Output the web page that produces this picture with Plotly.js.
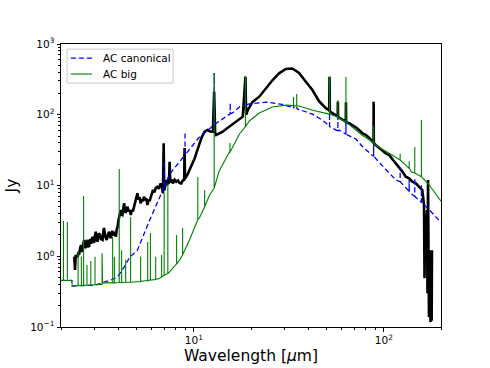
<!DOCTYPE html>
<html>
<head>
<meta charset="utf-8">
<script src="https://cdn.plot.ly/plotly-3.0.1.min.js"></script>
<style>
  html, body { margin: 0; padding: 0; background: #fff; }
  #sed { width: 490px; height: 368px; }
</style>
</head>
<body>
<div id="sed"></div>
<script>
// observed spectrum (black)
const obsWl = [2.35, 2.36, 2.37, 2.39, 2.40, 2.42, 2.45, 2.47, 2.49, 2.52, 2.55, 2.57, 2.60, 2.62, 2.65, 2.68,
    2.71, 2.73, 2.76, 2.78, 2.81, 2.85, 2.88, 2.93, 2.96, 2.99, 3.02, 3.05, 3.08, 3.12, 3.16, 3.21, 3.25,
    3.31, 3.34, 3.37, 3.42, 3.48, 3.53, 3.58, 3.62, 3.66, 3.72, 3.76, 3.81, 3.85, 3.89, 3.93, 3.97, 4.02,
    4.08, 4.13, 4.17, 4.21, 4.26, 4.30, 4.34, 4.38, 4.43, 4.48, 4.53, 4.60, 4.66, 4.72, 4.78, 4.85, 4.92,
    4.98, 5.05, 5.12, 5.18, 5.25, 5.32, 5.40, 5.47, 5.55, 5.62, 5.70, 5.78, 5.85, 5.93, 6.02, 6.10, 6.20,
    6.30, 6.43, 6.55, 6.69, 6.80, 6.88, 6.94, 6.99, 7.08, 7.17, 7.28, 7.40, 7.46, 7.52, 7.64, 7.76, 7.92,
    8.08, 8.25, 8.40, 8.59, 8.75, 8.90, 8.94, 8.99, 9.12, 9.30, 9.49, 9.68, 9.88, 10.1, 10.3, 10.5, 10.7,
    11.0, 11.4, 11.8, 12.2, 12.6, 12.8, 12.95, 13.1, 13.6, 14.2, 14.8, 15.4, 16.0, 16.7, 17.4, 18.1, 18.7,
    18.85, 19.2, 20.3, 22.1, 24.0, 26.0, 28.1, 30.5, 33.0, 35.8, 38.9, 42.1, 45.6, 49.4, 51.6, 51.8, 52.0,
    53.6, 55.5, 57.2, 57.3, 57.45, 58.1, 60.5, 63.1, 63.2, 63.35, 65.8, 68.5, 72.0, 74.5, 77.3, 80.5, 84.0,
    88.3, 88.4, 88.6, 91.0, 94.6, 98.5, 102.5, 106.7, 111.0, 115.7, 120.4, 125.3, 130.5, 135.8, 141.4,
    147.3, 153.3, 159.5, 162.8, 163.8, 164.8, 166.8, 168.8, 169.8, 170.9, 171.9, 172.9, 175.0, 176.1,
    177.1, 178.6, 179.3];
const obsJy = [0.985, 0.75, 0.64, 1.05, 0.95, 1.04, 0.985, 1.15, 1.05, 1.3, 1.44, 1.2, 1.16, 1.5, 1.70, 1.35,
    1.31, 1.6, 1.70, 1.4, 1.36, 1.75, 1.5, 1.89, 1.6, 1.54, 2.0, 2.22, 1.7, 1.61, 2.1, 2.00, 1.75,
    1.70, 2.2, 2.51, 1.9, 1.70, 2.0, 2.22, 1.9, 1.81, 2.3, 1.95, 2.22, 2.0, 1.89, 2.4, 2.62, 3.3,
    3.9, 4.51, 3.9, 3.83, 4.8, 5.6, 4.5, 4.09, 4.6, 5.02, 4.3, 4.5, 3.83, 4.5, 4.3, 5.02, 5.8,
    6.5, 7.76, 6.3, 6.8, 5.6, 6.4, 6.0, 6.95, 6.2, 6.6, 5.30, 6.3, 6.0, 6.95, 7.6, 8.64, 8.0,
    9.2, 9.6, 9.0, 10.7, 9.5, 7.76, 39.5, 8.5, 10.5, 11.9, 10.6, 11.0, 21.7, 11.0, 12.2, 10.7, 12.0,
    11.3, 11.8, 10.9, 10.7, 11.8, 12.0, 33.9, 12.5, 13.3, 14.6, 16.6, 18.5, 21.7, 24, 28.5, 33, 39.5,
    48, 57.6, 60.9, 58, 57.6, 212, 55, 51.7, 54, 57.6, 63, 67.8, 73, 79.7, 86, 93.9, 345,
    100, 115, 150, 180, 239, 310, 385, 443, 451, 389, 293, 224, 156, 125, 115, 345, 112,
    105, 99, 95, 153, 93, 91.4, 86, 80, 150, 78, 76, 71.6, 65, 60, 54.7, 51.7, 47,
    40, 153, 39.9, 37, 33.5, 31, 28.5, 27.0, 23.5, 20.6, 18.4, 15.7, 13.3, 12.6, 11.3,
    10.7, 9.6, 8.64, 5.3, 0.49, 3.83, 1.70, 4.51, 0.30, 12.0, 1.70, 0.138, 1.22, 0.118,
    0.885, 0.123, 1.22];

// AC canonical model: continuum + lines
const canonWl = [2.0, 2.28, 2.29, 3.0, 3.2, 3.66, 3.96, 4.3, 4.6, 5.05, 5.86, 6.61, 7.46, 8.73, 10.7, 13.15,
    15.96, 17.4, 19.6, 24.1, 29.2, 35.0, 41.9, 47.5, 51.5, 58.1, 71.3, 76.7, 86.5, 94.1, 115.6, 140, 172, 200];
const canonJy = [0.455, 0.455, 0.38, 0.39, 0.41, 0.46, 0.51, 0.70, 0.97, 1.22, 3.25, 6.9, 14.5, 24.5, 48.5, 76,
    106, 129, 142, 151, 140, 121, 103, 84, 70, 61, 45.4, 36.2, 27, 21.5, 12, 7.6, 4.65, 3.0];
const canonLineWl = [6.98, 8.99, 12.81, 15.55, 18.71, 33.48, 34.82, 51.8, 57.3, 63.2, 88.4, 121.9, 136, 145.5, 157.7];
const canonLineTop = [22, 57, 389, 147, 247, 135, 128, 106, 93, 84, 41, 18, 12, 12.8, 10.1];
const canonLineBase = [9.5, 27, 72, 103, 137, 126, 121, 68, 59, 53, 26, 11.3, 8.3, 7.0, 5.8];

// AC big model: continuum + lines
const bigWl = [2.0, 2.28, 2.29, 3.30, 3.31, 4.6, 5.5, 5.86, 6.61, 7.46, 8.41, 9.49, 10.7, 12.1, 13.6, 15.4,
    17.4, 19.6, 22.1, 25.9, 30.6, 35.8, 41.9, 51.5, 63.2, 76.7, 94.1, 115.6, 140, 172, 200];
const bigJy = [0.455, 0.455, 0.38, 0.40, 0.42, 0.43, 0.45, 0.46, 0.49, 0.6, 0.88, 1.7, 3.47, 7.3, 16, 29.8,
    53.5, 81.6, 106, 129, 137, 133, 117, 102, 79, 51.8, 35, 24.5, 15.5, 10.5, 6.0];
const bigLineWl = [2.06, 2.16, 2.46, 2.56, 2.63, 2.74, 2.87, 3.02, 3.29, 3.74, 3.82, 4.05, 4.17, 4.38, 4.65,
    5.25, 5.72, 5.91, 6.30, 6.77, 6.98, 7.3, 8.12, 8.73, 10.5, 11.4, 12.8, 15.5, 18.7, 33.5, 34.8, 51.8,
    57.3, 63.2, 88.4, 121.9, 136, 145.5, 157.7];
const bigLineTop = [3.15, 3.05, 1.15, 0.98, 7.1, 0.75, 0.86, 0.98, 1.1, 1.87, 0.98, 17.1, 1.22, 0.89, 3.59,
    0.98, 1.59, 2.13, 0.98, 1.04, 7.8, 10.8, 2.0, 2.5, 13.2, 8.6, 389, 40, 353, 178, 196, 345,
    162, 345, 70, 28, 22, 35, 84];
const bigLineBase = [0.455, 0.455, 0.385, 0.387, 0.387, 0.39, 0.39, 0.395, 0.40, 0.42, 0.42, 0.425, 0.425, 0.43, 0.43,
    0.44, 0.45, 0.46, 0.47, 0.51, 0.54, 0.57, 0.78, 1.05, 3.3, 5.0, 9.2, 29.5, 68, 135, 133, 102,
    92, 79, 40, 23, 17.5, 15, 13.3];

const yTicks = [0.1, 1, 10, 100, 1000];
const yTickText = ['10<sup>−1</sup>', '10<sup>0</sup>', '10<sup>1</sup>', '10<sup>2</sup>', '10<sup>3</sup>'];
const xTicks = [10, 100];
const xTickText = ['10<sup>1</sup>', '10<sup>2</sup>'];

// continuum points plus each line as base -> peak -> base, ordered by wavelength
function withLines(wl, jy, lineWl, lineTop, lineBase) {
    const pts = wl.map((w, i) => [w, jy[i], 0]);
    lineWl.forEach((w, i) => {
        pts.push([w, lineBase[i], 1], [w, lineTop[i], 2], [w, lineBase[i], 3]);
    });
    pts.sort((a, b) => a[0] - b[0] || a[2] - b[2]);
    return { x: pts.map(p => p[0]), y: pts.map(p => p[1]) };
}

const canon = withLines(canonWl, canonJy, canonLineWl, canonLineTop, canonLineBase);
const big = withLines(bigWl, bigJy, bigLineWl, bigLineTop, bigLineBase);

const canonLine = { color: '#0000ff', width: 1.3, dash: '5px,3px' };
const bigLine = { color: '#008000', width: 1.1 };

const traces = [
    {
        x: obsWl, y: obsJy,
        type: 'scatter', mode: 'lines',
        line: { color: 'black', width: 2.6 },
        hoverinfo: 'skip'
    },
    {
        name: 'AC canonical',
        x: canon.x, y: canon.y,
        type: 'scatter', mode: 'lines',
        line: canonLine
    },
    {
        name: 'AC big',
        x: big.x, y: big.y,
        type: 'scatter', mode: 'lines',
        line: bigLine
    }
];

// legend drawn by hand (matplotlib-style compact box)
function legendSample(y, line) {
    return {
        type: 'line', xref: 'paper', yref: 'paper', layer: 'above',
        x0: 0.026, x1: 0.082, y0: y, y1: y,
        line: line
    };
}

function legendLabel(y, text) {
    return {
        xref: 'paper', yref: 'paper', x: 0.104, y: y,
        xanchor: 'left', yanchor: 'middle', showarrow: false,
        text: text, font: { family: 'DejaVu Sans, sans-serif', size: 10.5, color: 'black' }
    };
}

const font = 'DejaVu Sans, sans-serif';
const minorX = [2, 3, 4, 5, 6, 7, 8, 9, 20, 30, 40, 50, 60, 70, 80, 90, 200];
const minorY = [];
yTicks.slice(0, 4).forEach(d => { for (let k = 2; k <= 9; k++) minorY.push(d * k); });

const layout = {
    width: 490,
    height: 368,
    margin: { l: 61, r: 49, t: 44, b: 41 },
    paper_bgcolor: 'white',
    plot_bgcolor: 'white',
    font: { family: font, color: 'black', size: 10.5 },
    showlegend: false,
    xaxis: {
        type: 'log',
        range: [Math.log10(2), Math.log10(200)],
        tickmode: 'array', tickvals: xTicks, ticktext: xTickText,
        ticks: 'outside', ticklen: 3.5, tickcolor: 'black',
        showline: true, linecolor: 'black', linewidth: 1, mirror: true,
        showgrid: false, zeroline: false,
        minor: { tickmode: 'array', tickvals: minorX, ticks: 'outside', ticklen: 2, tickcolor: 'black', showgrid: false },
        tickfont: { family: font, size: 10.5 },
        title: { text: 'Wavelength [<i>μ</i>m]', font: { family: font, size: 15.5 }, standoff: 5 }
    },
    yaxis: {
        type: 'log',
        range: [-1, 3],
        tickmode: 'array', tickvals: yTicks, ticktext: yTickText,
        ticks: 'outside', ticklen: 3.5, tickcolor: 'black',
        showline: true, linecolor: 'black', linewidth: 1, mirror: true,
        showgrid: false, zeroline: false,
        minor: { tickmode: 'array', tickvals: minorY, ticks: 'outside', ticklen: 2, tickcolor: 'black', showgrid: false },
        tickfont: { family: font, size: 10.5 },
        title: { text: 'Jy', font: { family: font, size: 15.5 }, standoff: 8 }
    },
    shapes: [
        {
            type: 'rect', xref: 'paper', yref: 'paper', layer: 'above',
            x0: 0.016, x1: 0.295, y0: 0.862, y1: 0.982,
            fillcolor: 'rgba(255,255,255,0.8)',
            line: { color: '#cccccc', width: 1 }
        },
        legendSample(0.950, canonLine),
        legendSample(0.894, bigLine)
    ],
    annotations: [
        legendLabel(0.950, traces[1].name),
        legendLabel(0.894, traces[2].name)
    ]
};

Plotly.newPlot('sed', traces, layout, { displayModeBar: false, staticPlot: true });
</script>
</body>
</html>
